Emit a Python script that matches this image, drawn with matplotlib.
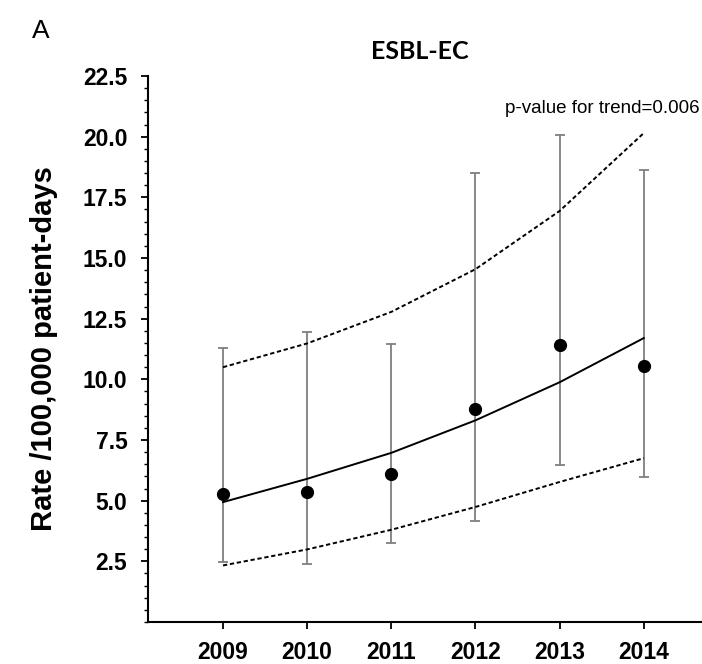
"""
ESBL-EC rate per 100,000 patient-days by year, with fitted trend and confidence band.
"""

import matplotlib

matplotlib.use("Agg")
import matplotlib.pyplot as plt
from matplotlib.ticker import MultipleLocator

years = [2009, 2010, 2011, 2012, 2013, 2014]
rate = [5.28, 5.35, 6.11, 8.76, 11.42, 10.53]
ci_low = [2.47, 2.40, 3.27, 4.16, 6.48, 5.97]
ci_high = [11.28, 11.96, 11.45, 18.49, 20.08, 18.62]

trend = [4.94, 5.90, 6.97, 8.31, 9.88, 11.70]
trend_low = [2.33, 2.99, 3.80, 4.74, 5.77, 6.75]
trend_high = [10.50, 11.48, 12.78, 14.54, 16.94, 20.15]

y_ticks = [2.5, 5.0, 7.5, 10.0, 12.5, 15.0, 17.5, 20.0, 22.5]


def main():
    plt.rcParams["font.family"] = ["Liberation Sans", "DejaVu Sans"]

    figure = plt.figure(figsize=(7.02, 6.64), dpi=100)
    axes = figure.add_axes([0.211, 0.0633, 0.787, 0.8222])

    err_low = [r - lo for r, lo in zip(rate, ci_low)]
    err_high = [hi - r for r, hi in zip(rate, ci_high)]
    axes.errorbar(
        years,
        rate,
        yerr=[err_low, err_high],
        fmt="none",
        ecolor="#7f7f7f",
        elinewidth=1.3,
        capsize=3.6,
        capthick=1.3,
        zorder=2,
    )
    axes.plot(years, trend, color="black", linewidth=1.4, zorder=3)
    dash = (0, (2.2, 1.4))
    axes.plot(years, trend_low, color="black", linewidth=1.4, linestyle=dash, zorder=3)
    axes.plot(years, trend_high, color="black", linewidth=1.4, linestyle=dash, zorder=3)
    axes.plot(years, rate, "o", color="black", markersize=8.5, zorder=4)

    axes.set_xlim(2008.11, 2014.675)
    axes.set_ylim(0, 22.5)
    axes.set_xticks(years)
    axes.set_xticklabels([str(y) for y in years])
    axes.set_yticks(y_ticks)
    axes.set_yticklabels([f"{v:.1f}" for v in y_ticks])
    axes.yaxis.set_minor_locator(MultipleLocator(0.5))

    for side in ("top", "right"):
        axes.spines[side].set_visible(False)
    for side in ("left", "bottom"):
        axes.spines[side].set_linewidth(1.5)

    axes.tick_params(axis="both", which="major", direction="out", length=5, width=1.3,
                     labelsize=16.5, colors="black")
    axes.tick_params(axis="y", which="major", pad=10)
    axes.tick_params(axis="x", which="major", pad=9)
    axes.tick_params(axis="y", which="minor", direction="out", length=3, width=1.0)
    for label in axes.get_xticklabels() + axes.get_yticklabels():
        label.set_fontweight("bold")

    axes.set_ylabel("Rate /100,000 patient-days", fontsize=21, fontweight="bold", labelpad=18)

    figure.text(0.598, 0.922, "ESBL-EC", fontsize=18, fontweight="bold",
                family=["Lato", "DejaVu Sans"], ha="center", va="center")
    figure.text(0.046, 0.953, "A", fontsize=19, ha="left", va="center")
    axes.text(0.998, 21.15, "p-value for trend=0.006", fontsize=13.5,
              ha="right", va="center", transform=axes.get_yaxis_transform())

    figure.savefig("out.png", dpi=100)


if __name__ == "__main__":
    main()
